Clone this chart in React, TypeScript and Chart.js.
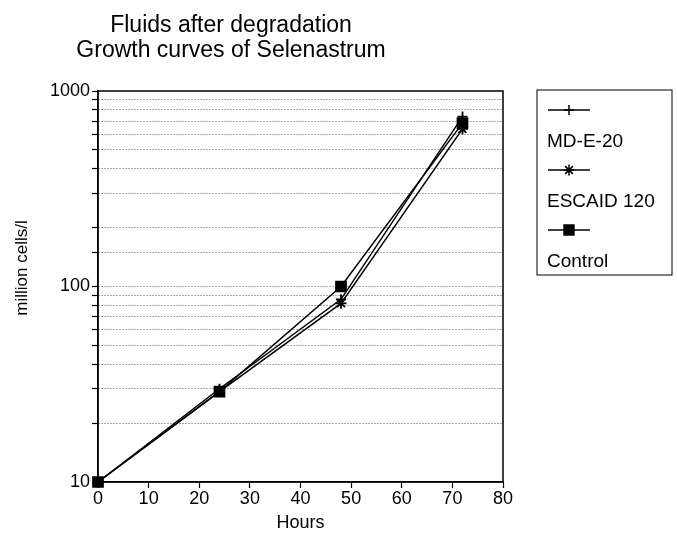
import React, { useEffect, useRef } from "react";
import { Chart, registerables } from "chart.js";
import { drawPoint } from "chart.js/helpers";

Chart.register(...registerables);

const hours = [0, 24, 48, 72];
const mdE20 = [10, 30, 86, 740];
const escaid120 = [10, 29, 82, 640];
const control = [10, 29, 100, 685];
const seriesNames = ["MD-E-20", "ESCAID 120", "Control"];
const pointStyles = ["cross", "star", "rect"];
const pointSizes = [5, 5.5, 7];
const titleLines = ["Fluids after degradation", "Growth curves of Selenastrum"];
const yLabels = [10, 100, 1000];
const xTitle = "Hours";
const yTitle = "million cells/l";

const FONT = "'Liberation Sans', Arial, Helvetica, sans-serif";

export default function App() {
  const ref = useRef<HTMLCanvasElement | null>(null);

  useEffect(() => {
    if (!ref.current) return;
    const series = [mdE20, escaid120, control];
    const datasets = series.map((vals, i) => ({
      label: seriesNames[i],
      data: hours.map((h, j) => ({ x: h, y: vals[j] })),
      borderColor: "#000",
      backgroundColor: "#000",
      borderWidth: 1.5,
      pointStyle: pointStyles[i] as any,
      pointRadius: pointSizes[i],
      pointBorderWidth: 1.8,
      pointBorderColor: "#000",
      pointBackgroundColor: "#000",
      tension: 0,
      clip: false as any,
    }));

    const extras = {
      id: "extras",
      afterDraw(chart: any) {
        const { ctx, chartArea } = chart;
        ctx.save();
        // frame
        ctx.strokeStyle = "#000";
        ctx.lineWidth = 1.5;
        ctx.setLineDash([]);
        ctx.strokeRect(chartArea.left, chartArea.top, chartArea.right - chartArea.left, chartArea.bottom - chartArea.top);
        // title
        ctx.fillStyle = "#000";
        ctx.font = `23px ${FONT}`;
        ctx.textAlign = "center";
        ctx.textBaseline = "alphabetic";
        ctx.fillText(titleLines[0], 231, 32);
        ctx.fillText(titleLines[1], 231, 57);
        // y axis title
        ctx.save();
        ctx.font = `17px ${FONT}`;
        ctx.translate(22, 268);
        ctx.rotate(-Math.PI / 2);
        ctx.textAlign = "center";
        ctx.textBaseline = "middle";
        ctx.fillText(yTitle, 0, 0);
        ctx.restore();
        // legend
        const bx = 537, by = 90, bw = 135, bh = 185;
        ctx.lineWidth = 1;
        ctx.strokeRect(bx, by, bw, bh);
        ctx.font = `19px ${FONT}`;
        ctx.textAlign = "left";
        ctx.textBaseline = "alphabetic";
        seriesNames.forEach((name, i) => {
          const sy = 110 + 60 * i;
          ctx.beginPath();
          ctx.lineWidth = 1.5;
          ctx.moveTo(548, sy);
          ctx.lineTo(590, sy);
          ctx.stroke();
          ctx.fillStyle = "#000";
          drawPoint(ctx, { pointStyle: pointStyles[i] as any, radius: pointSizes[i], rotation: 0, borderWidth: 1.8 }, 569, sy);
          ctx.fillText(name, 547, sy + 37);
        });
        ctx.restore();
      },
    };

    const chart = new Chart(ref.current, {
      type: "line",
      data: { datasets },
      plugins: [extras],
      options: {
        animation: false,
        responsive: false,
        layout: { padding: { top: 91, right: 174, left: 0, bottom: 0 } },
        plugins: { legend: { display: false }, title: { display: false }, tooltip: { enabled: false } },
        scales: {
          x: {
            type: "linear",
            min: 0,
            max: 80,
            afterFit: (s: any) => { s.height = 55; },
            ticks: { stepSize: 10, color: "#000", font: { family: FONT, size: 18 }, padding: 0, maxRotation: 0 },
            grid: { drawOnChartArea: false, drawTicks: true, tickLength: 6, tickColor: "#000", tickWidth: 1.2 },
            border: { display: true, color: "#000", width: 1.5 },
            title: { display: true, text: xTitle, color: "#000", font: { family: FONT, size: 18 }, padding: { top: 0, bottom: 3 } },
          },
          y: {
            type: "logarithmic",
            min: 10,
            max: 1000,
            afterFit: (s: any) => { s.width = 98; },
            ticks: {
              autoSkip: false,
              color: "#000",
              font: { family: FONT, size: 18 },
              padding: 2,
              callback: (v: any) => (yLabels.includes(Number(v)) ? String(v) : ""),
            },
            grid: {
              drawTicks: true,
              tickLength: 6,
              tickColor: "#000",
              tickWidth: 1.2,
              lineWidth: 1,
              color: (c: any) => (c.tick && (c.tick.value === 10 || c.tick.value === 1000) ? "rgba(0,0,0,0)" : "#555"),
            },
            border: { display: true, color: "#000", width: 1.5, dash: [1, 2] },
            title: { display: false },
          },
        },
      },
    });
    return () => chart.destroy();
  }, []);

  return (
    <div style={{ position: "absolute", left: 0, top: 0, width: 677, height: 537, background: "#fff" }}>
      <canvas ref={ref} width={677} height={537} style={{ display: "block" }} />
    </div>
  );
}
